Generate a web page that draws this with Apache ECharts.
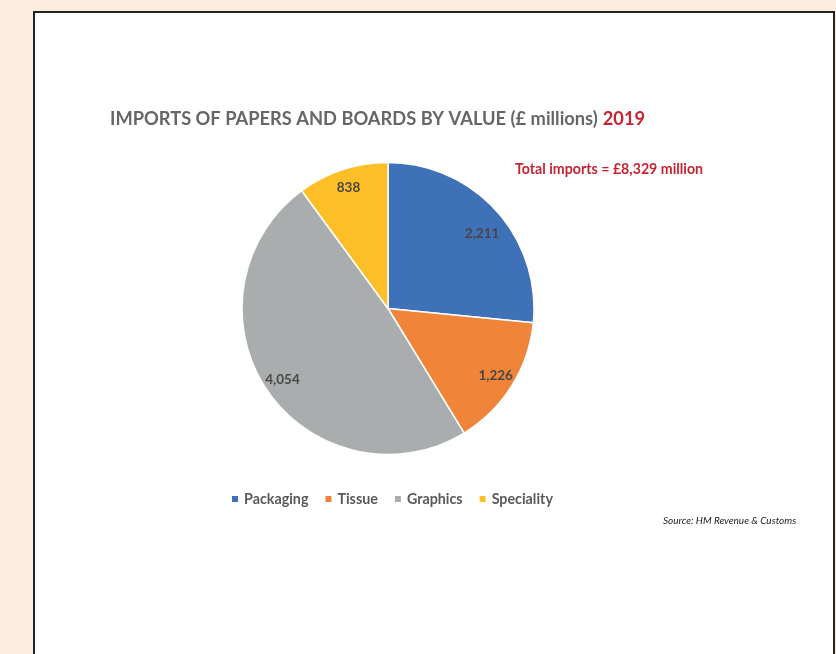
<!DOCTYPE html>
<html>
<head>
<meta charset="utf-8">
<script src="https://cdn.jsdelivr.net/npm/echarts@6/dist/echarts.min.js"></script>
<style>
  html, body { margin: 0; padding: 0; width: 836px; height: 654px; overflow: hidden; background: #FDEDDF; }
  #frame { position: absolute; left: 33px; top: 11px; width: 798px; height: 700px; background: #fff; border: 2.5px solid #222; }
  #chart { position: absolute; left: 0; top: 0; width: 836px; height: 654px; }
</style>
</head>
<body>
<div id="frame"></div>
<div id="chart"></div>
<script>
// Imports of papers and boards by value, £ millions, 2019
const categories = ['Packaging', 'Tissue', 'Graphics', 'Speciality'];
const values = [2211, 1226, 4054, 838];
const sliceColors = ['#3F71B8', '#F08539', '#AAADAE', '#FEBE27'];
const titleText = 'IMPORTS OF PAPERS AND BOARDS BY VALUE (£ millions)';
const titleYear = '2019';
const totalNote = 'Total imports = £8,329 million';
const sourceNote = 'Source: HM Revenue & Customs';

const FONT = 'Lato, "Open Sans", sans-serif';
const data = categories.map((name, i) => ({ name, value: values[i] }));
const center = [388, 308.5];
const R = 146;

const chart = echarts.init(document.getElementById('chart'), null, { renderer: 'canvas' });
chart.setOption({
  backgroundColor: 'transparent',
  animation: false,
  color: sliceColors,
  title: [
    {
      text: '{a|' + titleText + '} {b|' + titleYear + '}',
      left: 110, top: 110, padding: 0,
      textStyle: {
        rich: {
          a: { fontFamily: FONT, fontWeight: 'bold', fontSize: 18.3, color: '#666666' },
          b: { fontFamily: FONT, fontWeight: 'bold', fontSize: 18.3, color: '#C62430' }
        }
      }
    },
    {
      text: totalNote,
      left: 515, top: 162, padding: 0,
      textStyle: { fontFamily: FONT, fontWeight: 'bold', fontSize: 14.2, color: '#C62430' }
    },
    {
      text: sourceNote,
      left: 663, top: 516, padding: 0,
      textStyle: { fontFamily: FONT, fontStyle: 'italic', fontWeight: 'normal', fontSize: 10, color: '#222' }
    }
  ],
  legend: {
    data: categories,
    left: 230, top: 492, padding: 0,
    icon: 'rect', itemWidth: 8, itemHeight: 8, itemGap: 15,
    textStyle: { fontFamily: FONT, fontWeight: 'bold', fontSize: 14.3, color: '#595959' }
  },
  series: [
    {
      // the pie itself
      type: 'pie', center, radius: [0, R],
      startAngle: 90, clockwise: true,
      silent: true,
      data,
      label: { show: false }, labelLine: { show: false },
      itemStyle: { borderColor: '#fff', borderWidth: 1.5 },
      emphasis: { disabled: true }
    },
    {
      // transparent outer ring that carries the value labels near the rim
      type: 'pie', center, radius: [102, R],
      startAngle: 90, clockwise: true,
      silent: true,
      data,
      itemStyle: { color: 'rgba(0,0,0,0)', borderWidth: 0 },
      label: {
        show: true, position: 'inside',
        formatter: p => p.value.toLocaleString('en-GB'),
        fontFamily: FONT, fontWeight: 'bold', fontSize: 13.5, color: '#474747'
      },
      // the first slice's label sits a little lower, clear of the title note
      labelLayout: p => (p.dataIndex === 0 ? { dy: 10 } : {}),
      labelLine: { show: false },
      emphasis: { disabled: true }
    }
  ]
});
</script>
</body>
</html>
